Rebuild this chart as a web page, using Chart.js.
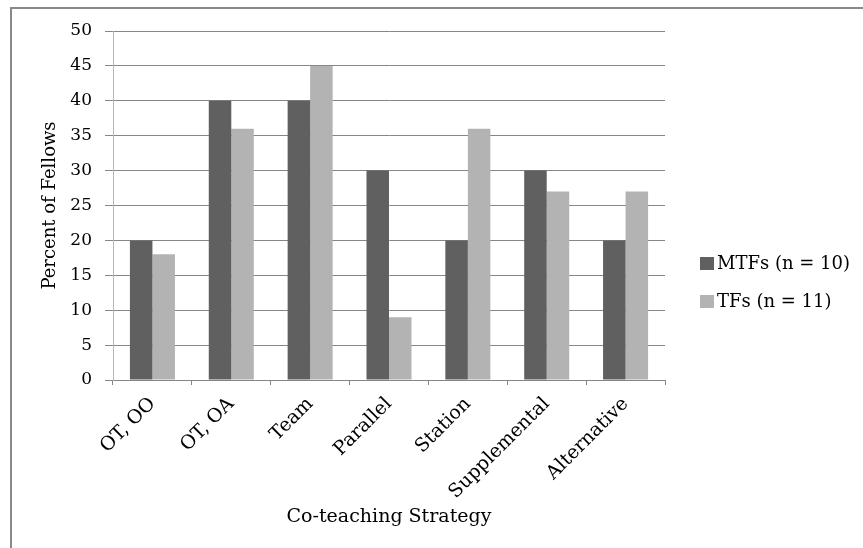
<!DOCTYPE html>
<html>
<head>
<meta charset="utf-8">
<script src="https://cdn.jsdelivr.net/npm/chart.js@4/dist/chart.umd.min.js"></script>
<style>
  html, body { margin: 0; padding: 0; background: #fff; width: 863px; height: 548px; overflow: hidden; }
  #frame { position: absolute; left: 10px; top: 7px; width: 900px; height: 600px; border: 2px solid #898989; box-sizing: border-box; }
  #c { position: absolute; left: 0; top: 0; }
</style>
</head>
<body>
<div id="frame"></div>
<canvas id="c" width="863" height="548"></canvas>
<script>
const categories = ['OT, OO', 'OT, OA', 'Team', 'Parallel', 'Station', 'Supplemental', 'Alternative'];
const seriesNames = ['MTFs (n = 10)', 'TFs (n = 11)'];
const mtfValues = [20, 40, 40, 30, 20, 30, 20];
const tfValues = [18, 36, 45, 9, 36, 27, 27];
const yTicks = [0, 5, 10, 15, 20, 25, 30, 35, 40, 45, 50];
const xTitle = 'Co-teaching Strategy';
const yTitle = 'Percent of Fellows';

const FONT = 'DejaVu Serif';
const colors = ['#606060', '#b3b3b3'];

const legendPlugin = {
  id: 'customLegend',
  afterDraw(chart) {
    const ctx = chart.ctx;
    ctx.save();
    ctx.font = '18px "' + FONT + '"';
    ctx.textBaseline = 'middle';
    ctx.textAlign = 'left';
    chart.data.datasets.forEach((ds, i) => {
      const y = 257 + i * 38;
      ctx.fillStyle = ds.backgroundColor;
      ctx.fillRect(700, y, 14, 13);
      ctx.fillStyle = '#000';
      ctx.fillText(ds.label, 717, y + 7);
    });
    ctx.restore();
  }
};

new Chart(document.getElementById('c'), {
  type: 'bar',
  data: {
    labels: categories,
    datasets: [
      { label: seriesNames[0], data: mtfValues, backgroundColor: colors[0], categoryPercentage: 0.571, barPercentage: 1.0 },
      { label: seriesNames[1], data: tfValues, backgroundColor: colors[1], categoryPercentage: 0.571, barPercentage: 1.0 }
    ]
  },
  options: {
    responsive: false,
    devicePixelRatio: 1,
    animation: false,
    layout: { padding: { left: 0, top: 31, right: 198, bottom: 0 } },
    plugins: { legend: { display: false }, tooltip: { enabled: false } },
    scales: {
      x: {
        grid: { drawOnChartArea: false, offset: true, tickLength: 5, color: '#868686' },
        border: { color: '#868686', width: 1 },
        ticks: { autoSkip: false, maxRotation: 45, minRotation: 45, color: '#000', font: { family: FONT, size: 19 }, padding: 8 },
        title: { display: true, text: xTitle, color: '#000', font: { family: FONT, size: 19 }, padding: { top: 0, bottom: 20 } },
        afterFit(scale) { scale.height = 168; }
      },
      y: {
        min: 0, max: 50,
        afterBuildTicks(scale) { scale.ticks = yTicks.map(v => ({ value: v })); },
        grid: { color: '#868686', tickLength: 8 },
        border: { color: '#b8b8b8', width: 1 },
        ticks: { color: '#000', font: { family: FONT, size: 17 }, padding: 13 },
        title: { display: true, text: yTitle, color: '#000', font: { family: FONT, size: 18 }, padding: { top: 40, bottom: 0 } },
        afterFit(scale) { scale.width = 113; }
      }
    }
  },
  plugins: [legendPlugin]
});
</script>
</body>
</html>
